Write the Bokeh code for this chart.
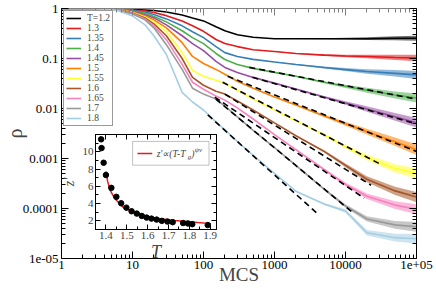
import math
from bokeh.plotting import figure
from bokeh.models import (FixedTicker, Legend, LegendItem, Label, BoxAnnotation, LogAxis,
                          LinearAxis, Range1d, CustomJSTickFormatter)
from bokeh.embed import file_html
from bokeh.resources import INLINE

# ---------------- data ----------------
t = [1, 3, 6, 10, 15, 20, 30, 50, 70, 100, 150, 200, 300, 500, 1000, 2000, 5000, 10000, 20000, 50000, 100000]

temps = ["T=1.2", "1.3", "1.35", "1.4", "1.45", "1.5", "1.55", "1.6", "1.65", "1.7", "1.8"]
colors = ["#000000", "#e41a1c", "#377eb8", "#4daf4a", "#984ea3", "#ff7f00",
          "#ffff33", "#a65628", "#f781bf", "#999999", "#a6cee3"]

rho_1_20 = [1.0, 0.999, 0.99, 0.955, 0.934, 0.913, 0.852, 0.743, 0.648, 0.565, 0.430, 0.359, 0.299, 0.267, 0.249, 0.249, 0.249, 0.249, 0.249, 0.254, 0.254]
rho_1_30 = [1.0, 0.998, 0.985, 0.934, 0.89, 0.83, 0.72, 0.56, 0.45, 0.35, 0.24, 0.20, 0.173, 0.150, 0.138, 0.126, 0.117, 0.112, 0.110, 0.105, 0.102]
rho_1_35 = [1.0, 0.998, 0.98, 0.913, 0.852, 0.760, 0.620, 0.450, 0.343, 0.261, 0.173, 0.131, 0.110, 0.096, 0.085, 0.076, 0.066, 0.060, 0.055, 0.0505, 0.047]
rho_1_40 = [1.0, 0.997, 0.975, 0.892, 0.80, 0.694, 0.540, 0.359, 0.261, 0.198, 0.126, 0.0956, 0.0757, 0.0635, 0.0527, 0.0441, 0.0334, 0.0278, 0.0232, 0.0186, 0.0162]
rho_1_45 = [1.0, 0.997, 0.97, 0.872, 0.75, 0.648, 0.471, 0.285, 0.198, 0.144, 0.0873, 0.0663, 0.0527, 0.0419, 0.0322, 0.0245, 0.0170, 0.0129, 0.00978, 0.0068, 0.0052]
rho_1_50 = [1.0, 0.996, 0.965, 0.852, 0.710, 0.592, 0.411, 0.207, 0.110, 0.0796, 0.0605, 0.0483, 0.0351, 0.0255, 0.0169, 0.0117, 0.00710, 0.00494, 0.00344, 0.00216, 0.00150]
rho_1_55 = [1.0, 0.996, 0.96, 0.833, 0.679, 0.541, 0.343, 0.131, 0.0578, 0.0440, 0.0367, 0.0320, 0.0232, 0.0154, 0.00934, 0.00566, 0.00299, 0.00173, 0.00105, 0.000634, 0.000505]
rho_1_60 = [1.0, 0.995, 0.955, 0.815, 0.648, 0.493, 0.285, 0.100, 0.0420, 0.0292, 0.0222, 0.0194, 0.0141, 0.00934, 0.00516, 0.00285, 0.00139, 0.000727, 0.000384, 0.000225, 0.000169]
rho_1_65 = [1.0, 0.995, 0.95, 0.796, 0.620, 0.450, 0.238, 0.0761, 0.0335, 0.0243, 0.0177, 0.0147, 0.0103, 0.00617, 0.00299, 0.00150, 0.000602, 0.000304, 0.000176, 0.000117, 0.000097]
rho_1_70 = [1.0, 0.994, 0.94, 0.778, 0.592, 0.411, 0.189, 0.0605, 0.0255, 0.0194, 0.0154, 0.0112, 0.00679, 0.00367, 0.00165, 0.000727, 0.000243, 0.000112, 0.0000619, 0.0000471, 0.0000430]
rho_1_80 = [1.0, 0.99, 0.92, 0.71, 0.471, 0.285, 0.120, 0.021, 0.0135, 0.00934, 0.0054, 0.00375, 0.00217, 0.00115, 0.000505, 0.000222, 0.000123, 0.000089, 0.0000327, 0.0000261, 0.0000249]

# late-time fluctuation band (half width in decades), from t = 1000 on
noise_t = [1000, 2000, 5000, 10000, 20000, 50000, 100000]
noise_dex = [0.004, 0.008, 0.018, 0.03, 0.045, 0.065, 0.08]
noise_scale = [0.6, 0.8, 1.0, 1.1, 1.2, 1.3, 1.3, 1.3, 1.2, 1.2, 1.2]

# power-law fits (dashed)
fit_t_start = [443, 488, 219, 186, 200, 144, 149, 115]
fit_rho_start = [0.0664, 0.0420, 0.0440, 0.0335, 0.0194, 0.0169, 0.0154, 0.00743]
fit_t_end = [100000, 100000, 100000, 31500, 22900, 18300, 12800, 3920]
fit_rho_end = [0.0154, 0.00493, 0.00138, 0.00076, 0.000292, 0.000161, 0.0000815, 0.0000815]

x_tick_labels = ["1", "10", "100", "1000", "10000", "1e+05"]
y_tick_labels = ["1e-05", "0.0001", "0.001", "0.01", "0.1", "1"]

# inset data
T_pts = [1.377, 1.379, 1.389, 1.400, 1.426, 1.450, 1.473, 1.498, 1.523, 1.548, 1.572,
         1.595, 1.618, 1.643, 1.668, 1.695, 1.720, 1.770, 1.793, 1.814, 1.888]
z_pts = [11.44, 10.43, 8.73, 7.31, 5.82, 4.78, 4.04, 3.53, 3.11, 2.84, 2.57,
         2.38, 2.26, 2.15, 2.00, 1.92, 1.85, 1.75, 1.70, 1.62, 1.51]
T_fit = [1.400, 1.408, 1.419, 1.442, 1.481, 1.54, 1.62, 1.73, 1.84, 1.903]
z_fit = [7.73, 6.6, 5.6, 4.6, 3.6, 2.9, 2.35, 2.05, 1.8, 1.68]
inset_key_T = [1.551, 1.622]
inset_key_z = [9.8, 9.8]

series = [rho_1_20, rho_1_30, rho_1_35, rho_1_40, rho_1_45, rho_1_50,
          rho_1_55, rho_1_60, rho_1_65, rho_1_70, rho_1_80]

SERIF = "Liberation Serif"

# ---------------- main figure ----------------
p = figure(width=436, height=289, x_axis_type="log", y_axis_type="log",
           x_range=Range1d(1, 1e5), y_range=Range1d(1e-5, 1),
           output_backend="svg", toolbar_location=None,
           min_border_left=57, min_border_right=20, min_border_top=8, min_border_bottom=31)
p.xgrid.visible = False
p.ygrid.visible = False
p.outline_line_color = None
p.background_fill_color = "white"

xmaj = [10.0 ** k for k in range(0, 6)]
xmin = [m * 10.0 ** k for k in range(0, 5) for m in range(2, 10)]
ymaj = [10.0 ** k for k in range(-5, 1)]
ymin = [m * 10.0 ** k for k in range(-5, 0) for m in range(2, 10)]

xfmt = CustomJSTickFormatter(args=dict(labels=x_tick_labels),
                             code="return labels[Math.round(Math.log10(tick))];")
yfmt = CustomJSTickFormatter(args=dict(labels=y_tick_labels),
                             code="return labels[Math.round(Math.log10(tick)) + 5];")
blank = CustomJSTickFormatter(code="return '';")


def style_axis(ax, ticker, fmt, color="black", labels=True):
    ax.ticker = ticker
    ax.formatter = fmt
    ax.major_tick_in = 7
    ax.major_tick_out = 0
    ax.minor_tick_in = 4
    ax.minor_tick_out = 0
    ax.axis_line_color = color
    ax.major_tick_line_color = color
    ax.minor_tick_line_color = color
    ax.major_label_text_font = SERIF
    ax.major_label_text_color = "black"
    if labels:
        ax.major_label_text_font_size = "13px"
        ax.major_label_standoff = 2
    else:
        ax.major_label_text_font_size = "0px"
        ax.major_label_standoff = 0


style_axis(p.xaxis[0], FixedTicker(ticks=xmaj, minor_ticks=xmin), xfmt)
style_axis(p.yaxis[0], FixedTicker(ticks=ymaj, minor_ticks=ymin), yfmt)
p.yaxis[0].major_label_standoff = 3

p.xaxis[0].axis_label = "MCS"
p.xaxis[0].axis_label_text_font = SERIF
p.xaxis[0].axis_label_text_font_style = "normal"
p.xaxis[0].axis_label_text_font_size = "19px"
p.xaxis[0].axis_label_standoff = -8
p.yaxis[0].axis_label = "ρ"
p.yaxis[0].axis_label_text_font = SERIF
p.yaxis[0].axis_label_text_font_style = "normal"
p.yaxis[0].axis_label_text_font_size = "20px"
p.yaxis[0].axis_label_standoff = -6

top_ax = LogAxis()
style_axis(top_ax, FixedTicker(ticks=xmaj, minor_ticks=xmin), blank, color="#808080", labels=False)
p.add_layout(top_ax, "above")
right_ax = LogAxis()
style_axis(right_ax, FixedTicker(ticks=ymaj, minor_ticks=ymin), blank, labels=False)
p.add_layout(right_ax, "right")

# fluctuation bands
i0 = t.index(noise_t[0])
for rho, col, sc in zip(series, colors, noise_scale):
    tail = rho[i0:]
    up = [r * 10 ** (w * sc) for r, w in zip(tail, noise_dex)]
    lo = [r / 10 ** (w * sc) for r, w in zip(tail, noise_dex)]
    p.varea(x=noise_t, y1=lo, y2=up, fill_color=col, fill_alpha=0.55)

items = []
for rho, col, lab in zip(series, colors, temps):
    r = p.line(t, rho, line_color=col, line_width=1.6)
    items.append(LegendItem(label=lab, renderers=[r]))

for ts, rs, te, re_ in zip(fit_t_start, fit_rho_start, fit_t_end, fit_rho_end):
    p.line([ts, te], [rs, re_], line_color="black", line_width=1.6, line_dash="6 4")

leg = Legend(items=items, location="top_left", margin=2, padding=2, spacing=0,
             glyph_width=15, glyph_height=10, label_height=10, label_standoff=6,
             label_text_font=SERIF, label_text_font_size="9.5px",
             border_line_color="#333333", border_line_width=1,
             background_fill_color="white", background_fill_alpha=1)
p.add_layout(leg)

# ---------------- inset ----------------
pi = figure(width=162, height=136, x_range=Range1d(1.35, 1.93), y_range=Range1d(1, 12),
            output_backend="svg", toolbar_location=None,
            min_border_left=34, min_border_right=4, min_border_top=4, min_border_bottom=37)
pi.xgrid.visible = False
pi.ygrid.visible = False
pi.border_fill_alpha = 0
pi.background_fill_color = "white"
pi.outline_line_color = "black"

ix_t = FixedTicker(ticks=[1.4, 1.5, 1.6, 1.7, 1.8, 1.9],
                   minor_ticks=[1.35, 1.45, 1.55, 1.65, 1.75, 1.85])
iy_t = FixedTicker(ticks=[2, 4, 6, 8, 10], minor_ticks=[1, 3, 5, 7, 9, 11])


def style_inset_axis(ax, ticker, labels=True):
    ax.ticker = ticker
    ax.major_tick_in = 5
    ax.major_tick_out = 0
    ax.minor_tick_in = 3
    ax.minor_tick_out = 0
    ax.axis_line_color = "black"
    ax.major_label_text_font = SERIF
    if labels:
        ax.major_label_text_font_size = "11px"
        ax.major_label_standoff = 2
    else:
        ax.formatter = CustomJSTickFormatter(code="return '';")
        ax.major_label_text_font_size = "0px"
        ax.major_label_standoff = 0


style_inset_axis(pi.xaxis[0], ix_t)
style_inset_axis(pi.yaxis[0], iy_t)
pi.xaxis[0].axis_label = "T"
pi.xaxis[0].axis_label_text_font = SERIF
pi.xaxis[0].axis_label_text_font_style = "italic"
pi.xaxis[0].axis_label_text_font_size = "18px"
pi.xaxis[0].axis_label_standoff = 0
pi.yaxis[0].axis_label = "z'"
pi.yaxis[0].axis_label_text_font = SERIF
pi.yaxis[0].axis_label_text_font_style = "italic"
pi.yaxis[0].axis_label_text_font_size = "14px"
pi.yaxis[0].axis_label_standoff = 3
itop = LinearAxis()
style_inset_axis(itop, ix_t, labels=False)
pi.add_layout(itop, "above")
iright = LinearAxis()
style_inset_axis(iright, iy_t, labels=False)
pi.add_layout(iright, "right")

pi.line(T_fit, z_fit, line_color="#e41a1c", line_width=1.5)
pi.scatter(T_pts, z_pts, size=5.5, color="black")

pi.add_layout(BoxAnnotation(left=1.528, right=1.894, bottom=8.45, top=11.2,
                            fill_color="white", fill_alpha=1, line_color="#333333", line_width=1))
pi.line(inset_key_T, inset_key_z, line_color="#e41a1c", line_width=1.5, level="overlay")
kx, ky = 1.643, 9.8
for txt, dx, dy, fs in [("z'∝(T-T", 0, 0, "9.5px"), ("g", 31, -3, "7px"),
                        (")", 34.5, 0, "9.5px"), ("ψν", 38, 4, "7px")]:
    pi.add_layout(Label(x=kx, y=ky, x_offset=dx, y_offset=dy, text=txt, text_font=SERIF,
                        text_font_style="italic", text_font_size=fs,
                        text_align="left", text_baseline="middle"))

pi.styles = {"position": "absolute", "left": "58px", "top": "130px"}

open("out.html", "w").write(file_html([p, pi], INLINE))
